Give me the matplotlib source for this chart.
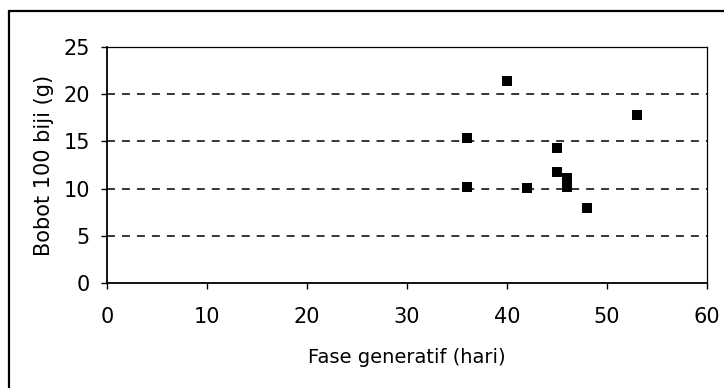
import matplotlib.pyplot as plt
from matplotlib.patches import Rectangle

# data
fase_generatif = [36, 36, 40, 42, 45, 45, 46, 46, 48, 53]
bobot_100_biji = [15.35, 10.2, 21.4, 10.05, 14.35, 11.8, 11.1, 10.2, 7.9, 17.8]

x_ticks = [0, 10, 20, 30, 40, 50, 60]
y_ticks = [0, 5, 10, 15, 20, 25]

plt.rcParams['font.family'] = ['DejaVu Sans']

fig = plt.figure(figsize=(7.24, 3.88), dpi=100)
ax = fig.add_axes([107 / 724, 105 / 388, 600 / 724, 236 / 388])

# outer chart frame (runs off the right and bottom of the scan)
fig.patches.append(Rectangle((9 / 724, -0.05), 1.0, (388 - 11) / 388 + 0.05,
                             transform=fig.transFigure, fill=False,
                             edgecolor='black', linewidth=1.6))

ax.scatter(fase_generatif, bobot_100_biji, marker='s', s=50, color='black',
           linewidths=0, zorder=3)

ax.set_xlim(0, 60)
ax.set_ylim(0, 25)
ax.set_xticks(x_ticks)
ax.set_yticks(y_ticks)
ax.yaxis.grid(True, linestyle=(0, (5.2, 4.6)), color='black', linewidth=1.1)
ax.get_ygridlines()[-1].set_visible(False)
ax.get_ygridlines()[0].set_visible(False)
ax.set_axisbelow(True)

for side in ['top', 'right']:
    ax.spines[side].set_linewidth(0.9)
for side in ['left', 'bottom']:
    ax.spines[side].set_linewidth(1.3)

ax.tick_params(axis='both', direction='out', length=4.3, width=1, labelsize=15)
ax.tick_params(axis='x', pad=13)
ax.tick_params(axis='y', pad=8)
ax.set_xlabel("Fase generatif (hari)", fontsize=14, labelpad=15)
ax.set_ylabel("Bobot 100 biji (g)", fontsize=15, labelpad=7)

fig.savefig("out.png", dpi=100)
